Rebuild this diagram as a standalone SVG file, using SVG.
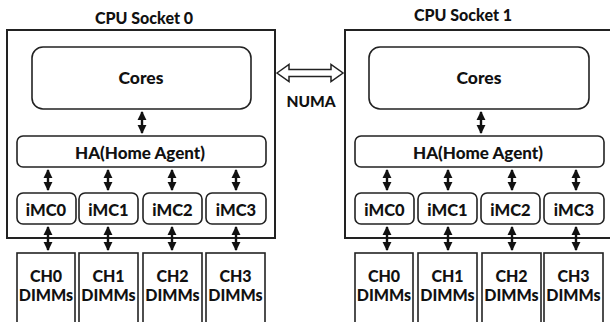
<svg xmlns="http://www.w3.org/2000/svg" width="610" height="322" viewBox="0 0 610 322">
<style>
.sock{fill:#fff;stroke:#222;stroke-width:2}
.box{fill:#fff;stroke:#222;stroke-width:1.6}
.t{font-family:Lato,"Open Sans",sans-serif;font-weight:900;fill:#111;text-anchor:middle}
.title{font-size:16px}
.core{font-size:17.5px}
.ha{font-size:17px}
.lab{font-size:15.5px}
.mc{font-size:16.5px}
.dm{font-size:16px}
.conn{stroke:#111;stroke-width:2.4;fill:none;marker-start:url(#ah);marker-end:url(#ah)}
</style>
<defs>
<marker id="ah" viewBox="0 0 10 10" refX="9" refY="5" markerWidth="4" markerHeight="3.8" orient="auto-start-reverse" markerUnits="strokeWidth">
<path d="M0,0 L10,5 L0,10 Z" fill="#111"/>
</marker>
</defs>
<rect width="610" height="322" fill="#fff"/>

<g id="socket0">
<rect class="sock" x="7" y="30" width="268" height="208"/>
<text class="t title" x="144" y="23.5">CPU Socket 0</text>
</g>
<g id="socket1">
<rect class="sock" x="345" y="30" width="270" height="208"/>
<text class="t title" x="463" y="21">CPU Socket 1</text>
</g>

<g id="cores0"><rect class="box" x="32" y="47" width="219" height="62" rx="11"/><text class="t core" x="141" y="84">Cores</text></g>
<g id="cores1"><rect class="box" x="369" y="47" width="220" height="62" rx="11"/><text class="t core" x="479" y="84">Cores</text></g>

<g id="ha0"><rect class="box" x="17" y="136" width="249" height="31" rx="6"/><text class="t ha" x="140" y="158.5">HA(Home Agent)</text></g>
<g id="ha1"><rect class="box" x="355" y="136" width="249" height="31" rx="6"/><text class="t ha" x="478" y="158.5">HA(Home Agent)</text></g>

<g id="imc0_0"><rect class="box" x="17" y="193" width="59" height="31" rx="6"/><text class="t mc" x="46" y="216">iMC0</text></g>
<g id="imc0_1"><rect class="box" x="79" y="193" width="59" height="31" rx="6"/><text class="t mc" x="108.5" y="216">iMC1</text></g>
<g id="imc0_2"><rect class="box" x="143" y="193" width="59" height="31" rx="6"/><text class="t mc" x="172.5" y="216">iMC2</text></g>
<g id="imc0_3"><rect class="box" x="206" y="193" width="60" height="31" rx="6"/><text class="t mc" x="236" y="216">iMC3</text></g>

<g id="imc1_0"><rect class="box" x="355" y="193" width="59" height="31" rx="6"/><text class="t mc" x="384.5" y="216">iMC0</text></g>
<g id="imc1_1"><rect class="box" x="418" y="193" width="59" height="31" rx="6"/><text class="t mc" x="447.5" y="216">iMC1</text></g>
<g id="imc1_2"><rect class="box" x="481" y="193" width="59" height="31" rx="6"/><text class="t mc" x="510.5" y="216">iMC2</text></g>
<g id="imc1_3"><rect class="box" x="544" y="193" width="60" height="31" rx="6"/><text class="t mc" x="574" y="216">iMC3</text></g>

<g id="dimm0_0"><rect class="box" x="17" y="253" width="58" height="72"/><text class="t dm" x="46" y="281.5">CH0</text><text class="t dm" x="46" y="301">DIMMs</text></g>
<g id="dimm0_1"><rect class="box" x="79" y="253" width="59" height="72"/><text class="t dm" x="108.5" y="281.5">CH1</text><text class="t dm" x="108.5" y="301">DIMMs</text></g>
<g id="dimm0_2"><rect class="box" x="143" y="253" width="59" height="72"/><text class="t dm" x="172.5" y="281.5">CH2</text><text class="t dm" x="172.5" y="301">DIMMs</text></g>
<g id="dimm0_3"><rect class="box" x="206" y="253" width="59" height="72"/><text class="t dm" x="235.5" y="281.5">CH3</text><text class="t dm" x="235.5" y="301">DIMMs</text></g>

<g id="dimm1_0"><rect class="box" x="355" y="253" width="58" height="72"/><text class="t dm" x="384" y="281.5">CH0</text><text class="t dm" x="384" y="301">DIMMs</text></g>
<g id="dimm1_1"><rect class="box" x="418" y="253" width="59" height="72"/><text class="t dm" x="447.5" y="281.5">CH1</text><text class="t dm" x="447.5" y="301">DIMMs</text></g>
<g id="dimm1_2"><rect class="box" x="482" y="253" width="59" height="72"/><text class="t dm" x="511.5" y="281.5">CH2</text><text class="t dm" x="511.5" y="301">DIMMs</text></g>
<g id="dimm1_3"><rect class="box" x="544" y="253" width="59" height="72"/><text class="t dm" x="573.5" y="281.5">CH3</text><text class="t dm" x="573.5" y="301">DIMMs</text></g>

<g id="connectors">
<line class="conn" x1="142" y1="112" x2="142" y2="133"/>
<line class="conn" x1="481" y1="112" x2="481" y2="133"/>
<line class="conn" x1="48" y1="170" x2="48" y2="190"/>
<line class="conn" x1="108" y1="170" x2="108" y2="190"/>
<line class="conn" x1="172" y1="170" x2="172" y2="190"/>
<line class="conn" x1="236" y1="170" x2="236" y2="190"/>
<line class="conn" x1="387" y1="170" x2="387" y2="190"/>
<line class="conn" x1="448" y1="170" x2="448" y2="190"/>
<line class="conn" x1="512" y1="170" x2="512" y2="190"/>
<line class="conn" x1="576" y1="170" x2="576" y2="190"/>
<line class="conn" x1="48" y1="227" x2="48" y2="250"/>
<line class="conn" x1="108" y1="227" x2="108" y2="250"/>
<line class="conn" x1="172" y1="227" x2="172" y2="250"/>
<line class="conn" x1="236" y1="227" x2="236" y2="250"/>
<line class="conn" x1="387" y1="227" x2="387" y2="250"/>
<line class="conn" x1="448" y1="227" x2="448" y2="250"/>
<line class="conn" x1="512" y1="227" x2="512" y2="250"/>
<line class="conn" x1="576" y1="227" x2="576" y2="250"/>
<g id="numa">
<path d="M277,73 L289,64.5 L289,69.5 L331,69.5 L331,64.5 L343,73 L331,81.5 L331,76.5 L289,76.5 L289,81.5 Z" fill="#fff" stroke="#222" stroke-width="1.5" stroke-linejoin="miter"/>
<text class="t lab" x="311" y="107">NUMA</text>
</g>
</g>
</svg>
